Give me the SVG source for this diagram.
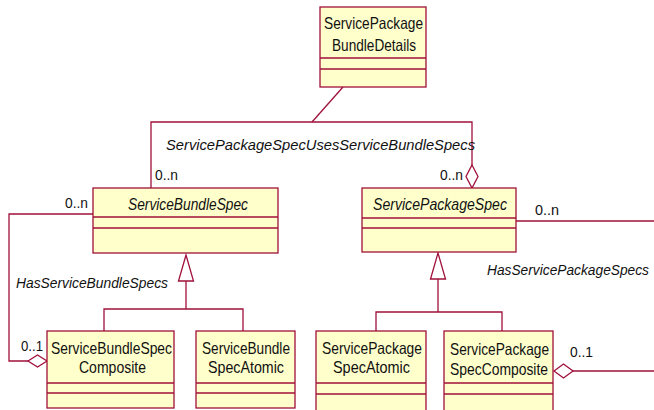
<svg xmlns="http://www.w3.org/2000/svg" width="654" height="410" viewBox="0 0 654 410">
  <style>
    .box { fill: #FFFFCC; stroke: #A0103A; stroke-width: 1.3; }
    .sep { stroke: #A0103A; stroke-width: 1.3; fill: none; }
    .ln { stroke: #A0103A; stroke-width: 1.3; fill: none; }
    .dia { fill: #FFFFFF; stroke: #A0103A; stroke-width: 1.3; }
    .tri { fill: #FFFFFF; stroke: #A0103A; stroke-width: 1.3; }
    text { font-family: "Liberation Sans", Arial, sans-serif; fill: #111; }
    .nm { font-size: 16.5px; }
    .lb { font-size: 15px; font-style: italic; }
    .mu { font-size: 14.5px; }
    .it { font-style: italic; }
  </style>

  <rect width="654" height="410" fill="#FFFFFF"/>

  <!-- connectors -->
  <g id="connectors">
    <!-- association class link to the uses-association -->
    <polyline class="ln" points="343,87 312,122"/>
    <polyline class="ln" points="151,188 151,122 472,122 472,165"/>
    <!-- HasServiceBundleSpecs -->
    <polyline class="ln" points="93,214 9,214 9,361 28,361"/>
    <!-- HasServicePackageSpecs -->
    <polyline class="ln" points="516,221 654,221"/>
    <polyline class="ln" points="573,371 654,371"/>
    <!-- generalization: bundle -->
    <polyline class="ln" points="186,281 186,309"/>
    <polyline class="ln" points="104,331 104,309 243,309 243,331"/>
    <!-- generalization: package -->
    <polyline class="ln" points="438,279 438,312"/>
    <polyline class="ln" points="376,331 376,312 502,312 502,331"/>
    <!-- arrowheads -->
    <polygon class="tri" points="186,255 178.5,281 193.5,281"/>
    <polygon class="tri" points="438,253 430.5,279 445.5,279"/>
    <polygon class="dia" points="472,165 478,176.5 472,188 466,176.5"/>
    <polygon class="dia" points="28,361 37.5,355 47,361 37.5,367"/>
    <polygon class="dia" points="554,371 563.5,364 573,371 563.5,378"/>
    <!-- labels -->
    <text class="lb" x="166" y="150" textLength="309" lengthAdjust="spacingAndGlyphs">ServicePackageSpecUsesServiceBundleSpecs</text>
    <text class="mu" x="155" y="180" textLength="23" lengthAdjust="spacingAndGlyphs">0..n</text>
    <text class="mu" x="440" y="180" textLength="23" lengthAdjust="spacingAndGlyphs">0..n</text>
    <text class="mu" x="65" y="208" textLength="23" lengthAdjust="spacingAndGlyphs">0..n</text>
    <text class="mu" x="535" y="215" textLength="24" lengthAdjust="spacingAndGlyphs">0..n</text>
    <text class="lb" x="16" y="288" textLength="152" lengthAdjust="spacingAndGlyphs">HasServiceBundleSpecs</text>
    <text class="lb" x="487" y="275" style="font-size:14px" textLength="162" lengthAdjust="spacingAndGlyphs">HasServicePackageSpecs</text>
    <text class="mu" x="21" y="351" textLength="22" lengthAdjust="spacingAndGlyphs">0..1</text>
    <text class="mu" x="570" y="357" textLength="23" lengthAdjust="spacingAndGlyphs">0..1</text>
  </g>

  <g id="ServicePackageBundleDetails">
    <rect class="box" x="320" y="7" width="106" height="80"/>
    <line class="sep" x1="320" y1="58" x2="426" y2="58"/>
    <line class="sep" x1="320" y1="69" x2="426" y2="69"/>
    <text class="nm" x="324" y="29" textLength="99" lengthAdjust="spacingAndGlyphs">ServicePackage</text>
    <text class="nm" x="332" y="51" textLength="84" lengthAdjust="spacingAndGlyphs">BundleDetails</text>
  </g>

  <g id="ServiceBundleSpec">
    <rect class="box" x="93" y="188" width="185" height="65"/>
    <line class="sep" x1="93" y1="217" x2="278" y2="217"/>
    <line class="sep" x1="93" y1="228" x2="278" y2="228"/>
    <text class="nm it" x="128" y="210" textLength="120" lengthAdjust="spacingAndGlyphs">ServiceBundleSpec</text>
  </g>

  <g id="ServicePackageSpec">
    <rect class="box" x="362" y="188" width="154" height="64"/>
    <line class="sep" x1="362" y1="218" x2="516" y2="218"/>
    <line class="sep" x1="362" y1="228" x2="516" y2="228"/>
    <text class="nm it" x="373" y="210" textLength="134" lengthAdjust="spacingAndGlyphs">ServicePackageSpec</text>
  </g>

  <g id="ServiceBundleSpecComposite">
    <rect class="box" x="47" y="331" width="127" height="77"/>
    <line class="sep" x1="47" y1="383" x2="174" y2="383"/>
    <line class="sep" x1="47" y1="393" x2="174" y2="393"/>
    <text class="nm" x="51" y="354" textLength="121" lengthAdjust="spacingAndGlyphs">ServiceBundleSpec</text>
    <text class="nm" x="79" y="373" textLength="67" lengthAdjust="spacingAndGlyphs">Composite</text>
  </g>

  <g id="ServiceBundleSpecAtomic">
    <rect class="box" x="196" y="331" width="99" height="77"/>
    <line class="sep" x1="196" y1="383" x2="295" y2="383"/>
    <line class="sep" x1="196" y1="393" x2="295" y2="393"/>
    <text class="nm" x="202" y="354" textLength="88" lengthAdjust="spacingAndGlyphs">ServiceBundle</text>
    <text class="nm" x="208" y="373" textLength="76" lengthAdjust="spacingAndGlyphs">SpecAtomic</text>
  </g>

  <g id="ServicePackageSpecAtomic">
    <rect class="box" x="316" y="331" width="110" height="90"/>
    <line class="sep" x1="316" y1="383" x2="426" y2="383"/>
    <line class="sep" x1="316" y1="394" x2="426" y2="394"/>
    <text class="nm" x="322" y="354" textLength="100" lengthAdjust="spacingAndGlyphs">ServicePackage</text>
    <text class="nm" x="333" y="373" textLength="77" lengthAdjust="spacingAndGlyphs">SpecAtomic</text>
  </g>

  <g id="ServicePackageSpecComposite">
    <rect class="box" x="444" y="331" width="109" height="90"/>
    <line class="sep" x1="444" y1="383" x2="553" y2="383"/>
    <line class="sep" x1="444" y1="394" x2="553" y2="394"/>
    <text class="nm" x="450" y="355" textLength="99" lengthAdjust="spacingAndGlyphs">ServicePackage</text>
    <text class="nm" x="450" y="375" textLength="98" lengthAdjust="spacingAndGlyphs">SpecComposite</text>
  </g>
</svg>
